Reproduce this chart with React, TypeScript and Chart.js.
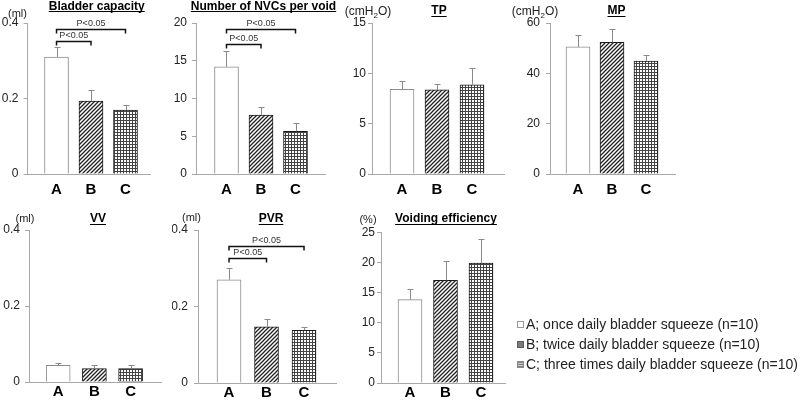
import React, { useEffect, useRef } from 'react';
import { Chart, registerables } from 'chart.js';

Chart.register(...registerables);

// ---------- data ----------
const categories = ['A', 'B', 'C'];

const bladderCapacity = [0.31, 0.193, 0.169];
const bladderCapacityErr = [0.026, 0.029, 0.013];
const bladderTicks = [0, 0.2, 0.4];

const nvcPerVoid = [14.2, 7.8, 5.65];
const nvcPerVoidErr = [2.1, 1.1, 1.05];
const nvcTicks = [0, 5, 10, 15, 20];

const tpValues = [8.41, 8.37, 8.87];
const tpErr = [0.83, 0.57, 1.63];
const tpTicks = [0, 5, 10, 15];

const mpValues = [50.5, 52.3, 44.9];
const mpErr = [4.6, 5.2, 2.3];
const mpTicks = [0, 20, 40, 60];

const vvValues = [0.044, 0.035, 0.035];
const vvErr = [0.007, 0.011, 0.009];
const vvTicks = [0, 0.2, 0.4];

const pvrValues = [0.27, 0.147, 0.138];
const pvrErr = [0.03, 0.021, 0.009];
const pvrTicks = [0, 0.2, 0.4];

const veValues = [13.86, 17.05, 19.9];
const veErr = [1.74, 3.25, 4.0];
const veTicks = [0, 5, 10, 15, 20, 25];

const sigText = 'P<0.05';
const bladderSig = [
  { from: 0, to: 2, level: 0.384 },
  { from: 0, to: 1, level: 0.353 },
];
const nvcSig = [
  { from: 0, to: 2, level: 19.2 },
  { from: 0, to: 1, level: 17.2 },
];
const pvrSig = [
  { from: 0, to: 2, level: 0.357 },
  { from: 0, to: 1, level: 0.328 },
];

const legendLabels = [
  'A; once daily bladder squeeze (n=10)',
  'B; twice daily bladder squeeze (n=10)',
  'C; three times daily bladder squeeze (n=10)',
];

// ---------- layout / style ----------
const FONT = '"Liberation Sans", Arial, Helvetica, sans-serif';
const AXIS_COLOR = '#a8a8a8';
const Y_W = 26;

type Sig = { from: number; to: number; level: number };
interface PanelDef {
  key: string;
  title: string;
  unit?: string;
  unitSub?: boolean;
  unitSize: number;
  values: number[];
  errors: number[];
  yTicks: number[];
  sig?: Sig[];
  l: number; r: number; t: number; b: number;
  xMin: number; xMax: number;
  titleY: number; titleDx: number;
  unitX: number; unitY: number;
  labelPad: number; xH: number; tickPad: number;
}

const panels: PanelDef[] = [
  {
    key: 'bc', title: 'Bladder capacity', unit: '(ml)', unitSize: 11,
    values: bladderCapacity, errors: bladderCapacityErr, yTicks: bladderTicks, sig: bladderSig,
    l: 27.5, r: 150, t: 23, b: 174, xMin: 0.159, xMax: 3.71,
    titleY: 9.5, titleDx: 8, unitX: 17.5, unitY: 14, labelPad: 7, xH: 26, tickPad: 5,
  },
  {
    key: 'nvc', title: 'Number of NVCs per void', unitSize: 11,
    values: nvcPerVoid, errors: nvcPerVoidErr, yTicks: nvcTicks, sig: nvcSig,
    l: 196, r: 325, t: 23, b: 174, xMin: 0.116, xMax: 3.855,
    titleY: 9.5, titleDx: 3, unitX: 0, unitY: 0, labelPad: 7, xH: 26, tickPad: 5,
  },
  {
    key: 'tp', title: 'TP', unit: 'cm', unitSub: true, unitSize: 12,
    values: tpValues, errors: tpErr, yTicks: tpTicks,
    l: 372, r: 504, t: 23, b: 174, xMin: 0.143, xMax: 3.914,
    titleY: 14, titleDx: 1, unitX: 368, unitY: 12, labelPad: 7, xH: 26, tickPad: 2,
  },
  {
    key: 'mp', title: 'MP', unit: 'cm', unitSub: true, unitSize: 12,
    values: mpValues, errors: mpErr, yTicks: mpTicks,
    l: 550, r: 675, t: 23, b: 174, xMin: 0.176, xMax: 3.853,
    titleY: 14, titleDx: 4, unitX: 535, unitY: 12, labelPad: 7, xH: 26, tickPad: 6,
  },
  {
    key: 'vv', title: 'VV', unit: '(ml)', unitSize: 11,
    values: vvValues, errors: vvErr, yTicks: vvTicks,
    l: 29, r: 161, t: 230, b: 382, xMin: 0.193, xMax: 3.84,
    titleY: 222, titleDx: 3, unitX: 25, unitY: 219, labelPad: 1, xH: 17, tickPad: 5,
  },
  {
    key: 'pvr', title: 'PVR', unit: '(ml)', unitSize: 11,
    values: pvrValues, errors: pvrErr, yTicks: pvrTicks, sig: pvrSig,
    l: 198, r: 336, t: 230, b: 383, xMin: 0.173, xMax: 3.853,
    titleY: 222, titleDx: 4, unitX: 191.5, unitY: 218, labelPad: 1, xH: 17, tickPad: 6,
  },
  {
    key: 've', title: 'Voiding efficiency', unit: '(%)', unitSize: 11,
    values: veValues, errors: veErr, yTicks: veTicks,
    l: 381, r: 505, t: 232.5, b: 383, xMin: 0.183, xMax: 3.676,
    titleY: 222, titleDx: 3, unitX: 368, unitY: 220, labelPad: 1, xH: 17, tickPad: 2,
  },
];

function makeHatch(): CanvasPattern | string {
  const c = document.createElement('canvas');
  c.width = 4; c.height = 4;
  const g = c.getContext('2d');
  if (!g) return '#777';
  g.fillStyle = '#fff';
  g.fillRect(0, 0, 4, 4);
  g.strokeStyle = '#222';
  g.lineWidth = 1.3;
  g.beginPath();
  g.moveTo(0, 4); g.lineTo(4, 0);
  g.moveTo(-1, 1); g.lineTo(1, -1);
  g.moveTo(3, 5); g.lineTo(5, 3);
  g.stroke();
  return g.createPattern(c, 'repeat') || '#777';
}

function makeGrid(): CanvasPattern | string {
  const c = document.createElement('canvas');
  c.width = 3; c.height = 3;
  const g = c.getContext('2d');
  if (!g) return '#aaa';
  g.fillStyle = '#fff';
  g.fillRect(0, 0, 3, 3);
  g.fillStyle = '#444';
  g.fillRect(0, 0, 3, 1);
  g.fillRect(0, 0, 1, 3);
  return g.createPattern(c, 'repeat') || '#aaa';
}

function extrasPlugin(def: PanelDef) {
  return {
    id: 'extras_' + def.key,
    afterDatasetsDraw(chart: any) {
      const ctx: CanvasRenderingContext2D = chart.ctx;
      const meta = chart.getDatasetMeta(0);
      const y = chart.scales.y;
      ctx.save();
      // error bars
      ctx.strokeStyle = '#8a8a8a';
      ctx.lineWidth = 1;
      meta.data.forEach((bar: any, i: number) => {
        const x = Math.round(bar.x) + 0.5;
        const yTop = Math.round(y.getPixelForValue(def.values[i] + def.errors[i])) + 0.5;
        const yBar = y.getPixelForValue(def.values[i]);
        ctx.beginPath();
        ctx.moveTo(x, yBar);
        ctx.lineTo(x, yTop);
        ctx.moveTo(x - 3, yTop);
        ctx.lineTo(x + 3, yTop);
        ctx.stroke();
      });
      // significance brackets
      if (def.sig) {
        def.sig.forEach((s) => {
          const x1 = meta.data[s.from].x;
          const x2 = meta.data[s.to].x;
          const yb = Math.round(y.getPixelForValue(s.level)) + 0.5;
          ctx.strokeStyle = '#111';
          ctx.lineWidth = 1.5;
          ctx.beginPath();
          ctx.moveTo(x1, yb + 4);
          ctx.lineTo(x1, yb);
          ctx.lineTo(x2, yb);
          ctx.lineTo(x2, yb + 4);
          ctx.stroke();
          ctx.fillStyle = '#333';
          ctx.font = `9px ${FONT}`;
          ctx.textAlign = 'center';
          ctx.textBaseline = 'bottom';
          ctx.fillText(sigText, (x1 + x2) / 2, yb - 1.5);
        });
      }
      ctx.restore();
    },
    afterDraw(chart: any) {
      const ctx: CanvasRenderingContext2D = chart.ctx;
      const area = chart.chartArea;
      ctx.save();
      // title
      ctx.font = `bold 12px ${FONT}`;
      ctx.fillStyle = '#000';
      ctx.textAlign = 'center';
      ctx.textBaseline = 'alphabetic';
      const cx = (area.left + area.right) / 2 + def.titleDx;
      ctx.fillText(def.title, cx, def.titleY);
      const w = ctx.measureText(def.title).width;
      ctx.strokeStyle = '#000';
      ctx.lineWidth = 1;
      ctx.beginPath();
      const uy = Math.round(def.titleY + 1.5) + 0.5;
      ctx.moveTo(cx - w / 2, uy);
      ctx.lineTo(cx + w / 2, uy);
      ctx.stroke();
      // unit
      if (def.unit) {
        ctx.fillStyle = '#222';
        ctx.textBaseline = 'middle';
        ctx.textAlign = 'left';
        const main = `${def.unitSize}px ${FONT}`;
        if (def.unitSub) {
          const sub = `${Math.round(def.unitSize * 0.7)}px ${FONT}`;
          const p1 = '(cmH';
          const p2 = '2';
          const p3 = 'O)';
          ctx.font = main;
          const w1 = ctx.measureText(p1).width;
          const w3 = ctx.measureText(p3).width;
          ctx.font = sub;
          const w2 = ctx.measureText(p2).width;
          let x = def.unitX - (w1 + w2 + w3) / 2;
          ctx.font = main;
          ctx.fillText(p1, x, def.unitY);
          x += w1;
          ctx.font = sub;
          ctx.fillText(p2, x, def.unitY + 3.5);
          x += w2;
          ctx.font = main;
          ctx.fillText(p3, x, def.unitY);
        } else {
          ctx.font = main;
          ctx.textAlign = 'center';
          ctx.fillText(def.unit, def.unitX, def.unitY);
        }
      }
      ctx.restore();
    },
  };
}

function buildConfig(def: PanelDef, hatch: any, grid: any): any {
  const fills = ['#ffffff', hatch, grid];
  const borders = ['#8c8c8c', '#1a1a1a', '#1a1a1a'];
  return {
    type: 'bar',
    data: {
      datasets: [
        {
          data: def.values.map((v, i) => ({ x: i + 1, y: v })),
          backgroundColor: fills,
          borderColor: borders,
          borderWidth: 1,
          borderSkipped: 'bottom',
          barThickness: 24,
        },
      ],
    },
    options: {
      animation: false,
      responsive: false,
      maintainAspectRatio: false,
      devicePixelRatio: 1,
      events: [],
      layout: {
        padding: {
          left: def.l - Y_W,
          right: 800 - def.r,
          top: def.t,
          bottom: Math.max(0, 400 - def.b - def.xH),
        },
      },
      plugins: {
        legend: { display: false },
        tooltip: { enabled: false },
        title: { display: false },
      },
      scales: {
        x: {
          type: 'linear',
          min: def.xMin,
          max: def.xMax,
          offset: false,
          grid: { display: false, drawTicks: false, offset: false },
          border: { display: true, color: AXIS_COLOR, width: 1 },
          ticks: {
            padding: def.labelPad,
            autoSkip: false,
            maxRotation: 0,
            color: '#000',
            font: { family: FONT, size: 15, weight: 'bold' },
            callback: (v: number) => categories[Math.round(v) - 1] ?? '',
          },
          afterBuildTicks: (s: any) => {
            s.ticks = categories.map((_, i) => ({ value: i + 1 }));
          },
          afterFit: (s: any) => {
            s.height = def.xH;
          },
        },
        y: {
          type: 'linear',
          min: 0,
          max: def.yTicks[def.yTicks.length - 1],
          grid: {
            display: true,
            drawOnChartArea: false,
            drawTicks: true,
            tickLength: 4,
            color: AXIS_COLOR,
          },
          border: { display: true, color: AXIS_COLOR, width: 1 },
          ticks: {
            padding: def.tickPad,
            color: '#222',
            font: { family: FONT, size: 12 },
            callback: (v: number) => String(v),
          },
          afterBuildTicks: (s: any) => {
            s.ticks = def.yTicks.map((v) => ({ value: v }));
          },
          afterFit: (s: any) => {
            s.width = Y_W;
          },
        },
      },
    },
    plugins: [extrasPlugin(def)],
  };
}

function Panel({ def }: { def: PanelDef }) {
  const ref = useRef<HTMLCanvasElement>(null);
  useEffect(() => {
    if (!ref.current) return;
    const chart = new Chart(ref.current, buildConfig(def, makeHatch(), makeGrid()));
    return () => chart.destroy();
  }, [def]);
  return (
    <canvas
      ref={ref}
      width={800}
      height={400}
      style={{ position: 'absolute', left: 0, top: 0, width: 800, height: 400 }}
    />
  );
}

const legendSwatches = [
  { background: '#ffffff', border: '1px solid #9a9a9a' },
  { background: '#7a7a7a', border: '1px solid #5a5a5a' },
  {
    background:
      'repeating-linear-gradient(0deg, #888 0 1px, #c4c4c4 1px 2px), #aaa',
    border: '1px solid #888',
  },
];

export default function App() {
  return (
    <div
      style={{
        position: 'absolute',
        left: 0,
        top: 0,
        width: 800,
        height: 400,
        background: '#fff',
        overflow: 'hidden',
        fontFamily: FONT,
      }}
    >
      {panels.map((p) => (
        <Panel key={p.key} def={p} />
      ))}
      {legendLabels.map((label, i) => (
        <div
          key={label}
          style={{
            position: 'absolute',
            left: 517,
            top: 316 + i * 20.2,
            height: 16,
            lineHeight: '16px',
            whiteSpace: 'nowrap',
            fontSize: 14,
            color: '#222',
            display: 'flex',
            alignItems: 'center',
          }}
        >
          <span
            style={{
              display: 'inline-block',
              width: 7,
              height: 7,
              boxSizing: 'border-box',
              marginRight: 2,
              ...legendSwatches[i],
            }}
          />
          <span>{label}</span>
        </div>
      ))}
    </div>
  );
}
